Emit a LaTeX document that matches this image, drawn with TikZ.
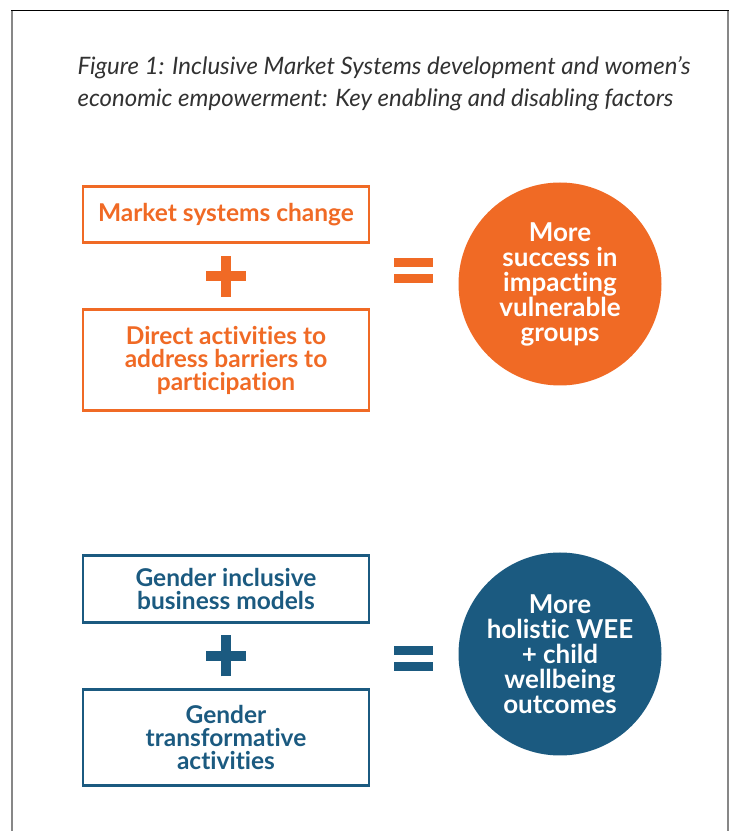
\documentclass[tikz,border=0pt]{standalone}
\usepackage{fontspec}
\setmainfont{Lato}[Ligatures=NoCommon]
\usetikzlibrary{calc,positioning}
\definecolor{imsorange}{RGB}{240,106,37}
\definecolor{imsblue}{RGB}{27,90,128}
\definecolor{framegray}{RGB}{135,135,135}
\definecolor{titlegray}{RGB}{50,50,50}
\tikzstyle{orangebox} = [rectangle, minimum width=286pt, minimum height=56pt, align=center, draw=imsorange, line width=2.8pt, text=imsorange, font=\bfseries\fontsize{24.5}{23}\selectfont]
\tikzstyle{bluebox} = [rectangle, minimum width=286pt, minimum height=67pt, align=center, draw=imsblue, line width=2.8pt, text=imsblue, font=\bfseries\fontsize{24.5}{23}\selectfont]
\tikzstyle{result} = [circle, minimum size=203pt, inner sep=0pt, align=center, text=white, font=\bfseries\fontsize{26}{25}\selectfont]
\tikzstyle{plusbar} = [line width=10pt, line cap=butt]

\begin{document}
\begin{tikzpicture}[x=1pt,y=1pt]
\useasboundingbox (0,0) rectangle (731,831);

% frame, open at the bottom
\draw [framegray, line width=2pt] (12,0) -- (12,820.5);
\draw [framegray, line width=2pt] (728,0) -- (728,820.5);
\draw [black, line width=1.2pt] (11,820.5) -- (729,820.5);

\node (title) [anchor=base west, align=left, text=titlegray, font=\itshape\fontsize{24}{31.7}\selectfont] at (74,724.3) {Figure 1: Inclusive Market Systems development and women’s\\economic empowerment: Key enabling and disabling factors};

% first row
\node (msc) [orangebox] at (226,616.5) {Market systems change};
\node (direct) [orangebox, minimum height=100.7pt, below of=msc, node distance=145.5pt] {Direct activities to\\address barriers to\\participation};
\node (vuln) [result, fill=imsorange] at (560,547) {More\\success in\\impacting\\vulnerable\\groups};
\coordinate (plus1) at ($(msc.south)!.5!(direct.north)$);
\coordinate (eq1) at (413.5,560.5);
\draw [plusbar, imsorange] ($(plus1)+(-20,0)$) -- ($(plus1)+(20,0)$);
\draw [plusbar, imsorange] ($(plus1)+(0,-20.5)$) -- ($(plus1)+(0,20.5)$);
\fill [imsorange] ($(eq1)+(-19.5,3.5)$) rectangle ++(39,9);
\fill [imsorange] ($(eq1)+(-19.5,-12.5)$) rectangle ++(39,9);
%
% second row
\node (gim) [bluebox] at (226,242) {Gender inclusive\\business models};
\node (gta) [bluebox, minimum height=95.7pt, below of=gim, node distance=148.3pt] {Gender\\transformative\\activities};
\node (wee) [result, fill=imsblue] at (560,177) {More\\holistic WEE\\+ child\\wellbeing\\outcomes};
\coordinate (plus2) at ($(gim.south)!.5!(gta.north)$);
\coordinate (eq2) at (413.5,172.2);
\draw [plusbar, imsblue] ($(plus2)+(-20,0)$) -- ($(plus2)+(20,0)$);
\draw [plusbar, imsblue] ($(plus2)+(0,-20.5)$) -- ($(plus2)+(0,20.5)$);
\fill [imsblue] ($(eq2)+(-19.5,3.5)$) rectangle ++(39,9);
\fill [imsblue] ($(eq2)+(-19.5,-12.5)$) rectangle ++(39,9);

\end{tikzpicture}
\end{document}
